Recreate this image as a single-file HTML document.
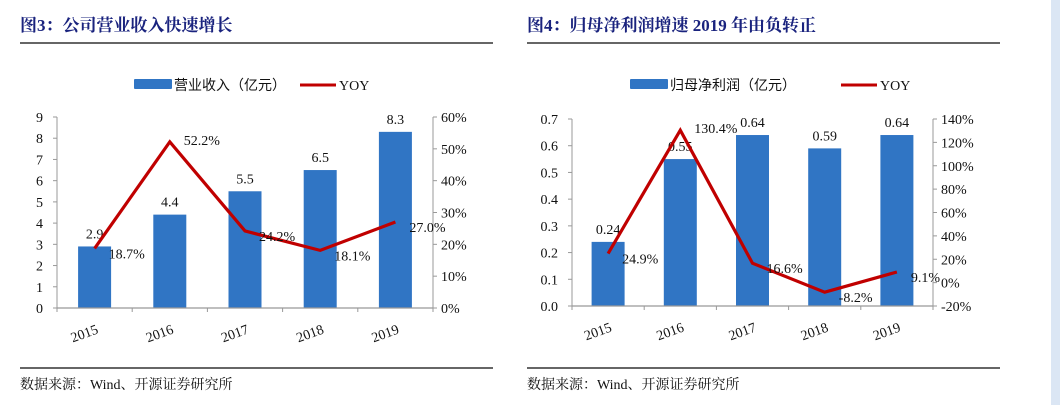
<!DOCTYPE html>
<html><head><meta charset="utf-8">
<style>
html,body{margin:0;padding:0;background:#fff;width:1060px;height:405px;overflow:hidden}
svg{display:block}
.title{font-family:"Liberation Serif","Noto Serif CJK SC",serif;font-weight:bold;font-size:17px;fill:#1a237e}
.tick{font-family:"Liberation Serif","Noto Serif CJK SC",serif;font-size:14px;fill:#111}
.lbl{font-family:"Liberation Serif",serif;font-size:14px;fill:#111}
.leg{font-family:"Liberation Sans","Noto Sans CJK SC",sans-serif;font-size:14px;fill:#111}
.legs{font-family:"Liberation Serif",serif;font-size:14px;fill:#111}
.foot{font-family:"Liberation Serif","Noto Serif CJK SC",serif;font-size:14px;fill:#111}
</style></head>
<body>
<svg id="svg" width="1060" height="405">
<rect x="1051" y="0" width="9" height="405" fill="#dbe6f4"/>
</svg>
<script>
const years = ["2015","2016","2017","2018","2019"];
const revenue = [2.9, 4.4, 5.5, 6.5, 8.3];
const revenueLabels = ["2.9","4.4","5.5","6.5","8.3"];
const revYoy = [18.7, 52.2, 24.2, 18.1, 27.0];
const revYoyLabels = ["18.7%","52.2%","24.2%","18.1%","27.0%"];
const revLeftTicks = [0,1,2,3,4,5,6,7,8,9];
const revRightTicks = [0,10,20,30,40,50,60];

const profit = [0.24, 0.55, 0.64, 0.59, 0.64];
const profitLabels = ["0.24","0.55","0.64","0.59","0.64"];
const profYoy = [24.9, 130.4, 16.6, -8.2, 9.1];
const profYoyLabels = ["24.9%","130.4%","16.6%","-8.2%","9.1%"];
const profLeftTicks = [0,0.1,0.2,0.3,0.4,0.5,0.6,0.7];
const profRightTicks = [-20,0,20,40,60,80,100,120,140];

const svg = document.getElementById('svg');
const NS = 'http://www.w3.org/2000/svg';
function mk(tag, attrs, text){
  const e = document.createElementNS(NS, tag);
  for (const k in attrs) e.setAttribute(k, attrs[k]);
  if (text !== undefined) e.textContent = text;
  svg.appendChild(e);
  return e;
}

function chart(cfg){
  const {ox, title, legName, legRect, legLine, L, R, T, B, lmin, lmax, rmin, rmax, lt, rt, ltFmt, vals, vLabels, yoy, yLabels, nm} = cfg;
  const t = mk('text',{x:ox,y:31,class:'title'},title);
  
  
  const r1 = mk('line',{x1:ox,x2:ox+473,y1:43,y2:43,stroke:'#333','stroke-width':1.5});
  
  
  // legend
  const lr = mk('rect',{x:legRect,y:79,width:38,height:10,fill:'#3075c4',rx:1});
  
  
  const lt1 = mk('text',{x:legRect+40,y:90,class:'leg'},legName);
  
  
  const ll = mk('line',{x1:legLine,x2:legLine+36,y1:85,y2:85,stroke:'#c00000','stroke-width':3});
  
  
  const lt2 = mk('text',{x:legLine+39,y:90,class:'legs'},'YOY');
  
  

  const yl = v => B - (v-lmin)/(lmax-lmin)*(B-T);
  const yr = v => B - (v-rmin)/(rmax-rmin)*(B-T);
  const n = years.length, step = (R-L)/n;
  const xc = i => L + step*(i+0.5);

  // axes
  const al = mk('line',{x1:L,x2:L,y1:T,y2:B,stroke:'#999','stroke-width':1});
  
  
  const ar = mk('line',{x1:R,x2:R,y1:T,y2:B,stroke:'#999','stroke-width':1});
  
  
  lt.forEach(v=>{
    mk('line',{x1:L-4,x2:L,y1:yl(v),y2:yl(v),stroke:'#999'});
    const e = mk('text',{x:L-14,y:yl(v)+5,class:'tick','text-anchor':'end'},ltFmt(v));
    
    
  });
  rt.forEach(v=>{
    mk('line',{x1:R,x2:R+4,y1:yr(v),y2:yr(v),stroke:'#999'});
    const e = mk('text',{x:R+8,y:yr(v)+5,class:'tick'},v+'%');
    
    
  });
  // bars
  vals.forEach((v,i)=>{
    const b = mk('rect',{x:xc(i)-16.5,y:yl(v),width:33,height:B-yl(v),fill:'#3075c4'});
    
    
    const tl = mk('text',{x:xc(i),y:yl(v)-8,class:'lbl','text-anchor':'middle'},vLabels[i]);
    
    
  });
  const ax = mk('line',{x1:L,x2:R,y1:B,y2:B,stroke:'#999','stroke-width':1.2});
  
  
  for(let i=0;i<=n;i++) mk('line',{x1:L+step*i,x2:L+step*i,y1:B,y2:B+4,stroke:'#999'});
  years.forEach((y,i)=>{
    const e = mk('text',{x:xc(i)-10,y:B+30,class:'tick','text-anchor':'middle',transform:`rotate(-20 ${xc(i)-10} ${B+26})`},y);
    
    
  });
  // line
  const pts = yoy.map((v,i)=>xc(i)+','+yr(v)).join(' ');
  const pl = mk('polyline',{points:pts,fill:'none',stroke:'#c00000','stroke-width':3.2,'stroke-linejoin':'miter'});
  
  
  yoy.forEach((v,i)=>{
    const peak = i>0 && i<n-1 && v>yoy[i-1] && v>yoy[i+1];
    const e = mk('text',{x:xc(i)+14,y:yr(v)+(peak?3:10),class:'lbl'},yLabels[i]);
    
    
  });
  // footer
  const r2 = mk('line',{x1:ox,x2:ox+473,y1:368,y2:368,stroke:'#333','stroke-width':1.5});
  
  
  const f = mk('text',{x:ox,y:389,class:'foot'},'数据来源：Wind、开源证券研究所');
  
  
}

chart({ox:20,title:'图3：公司营业收入快速增长',legName:'营业收入（亿元）',legRect:134,legLine:300,
  L:57,R:433,T:117,B:308,lmin:0,lmax:9,rmin:0,rmax:60,lt:revLeftTicks,rt:revRightTicks,ltFmt:v=>String(v),
  vals:revenue,vLabels:revenueLabels,yoy:revYoy,yLabels:revYoyLabels,nm:'revenue-chart'});
chart({ox:527,title:'图4：归母净利润增速 2019 年由负转正',legName:'归母净利润（亿元）',legRect:630,legLine:841,
  L:572,R:933,T:119,B:306,lmin:0,lmax:0.7,rmin:-20,rmax:140,lt:profLeftTicks,rt:profRightTicks,ltFmt:v=>v.toFixed(1),
  vals:profit,vLabels:profitLabels,yoy:profYoy,yLabels:profYoyLabels,nm:'profit-chart'});
</script>
</body></html>
